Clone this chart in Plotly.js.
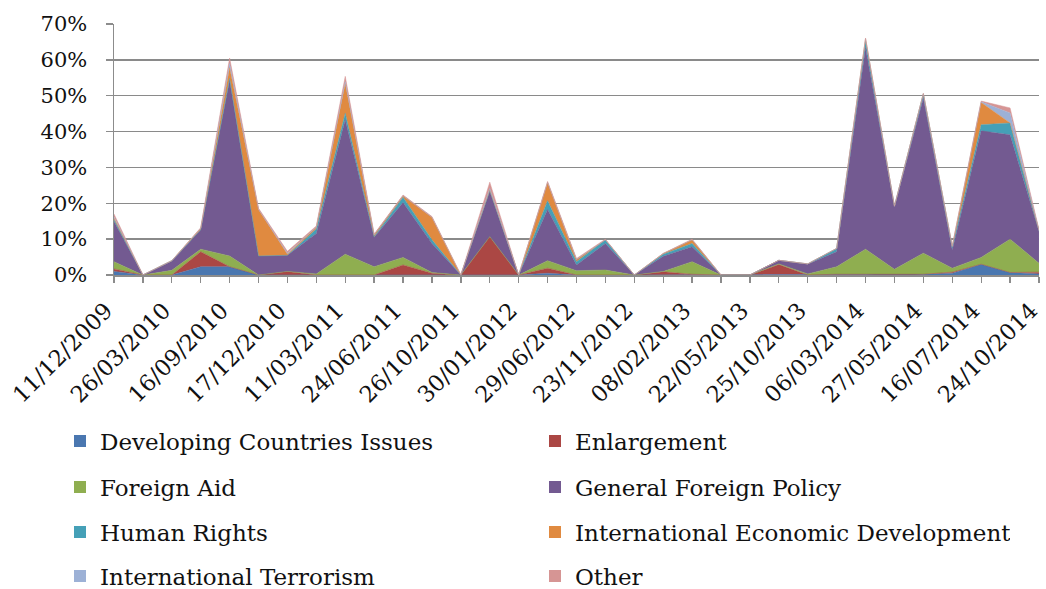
<!DOCTYPE html>
<html>
<head>
<meta charset="utf-8">
<script src="https://cdn.plot.ly/plotly-3.0.1.min.js"></script>
<style>
html,body{margin:0;padding:0;background:#fff;}
#chart{width:1046px;height:589px;}
</style>
</head>
<body>
<div id="chart"></div>
<script>
// Tick labels (every second meeting date is labelled)
var dateLabels = ['11/12/2009','26/03/2010','16/09/2010','17/12/2010','11/03/2011','24/06/2011','26/10/2011','30/01/2012','29/06/2012','23/11/2012','08/02/2013','22/05/2013','25/10/2013','06/03/2014','27/05/2014','16/07/2014','24/10/2014'];
var yTickVals = [0,10,20,30,40,50,60,70];

// Series names
var seriesNames = ['Developing Countries Issues','Enlargement','Foreign Aid','General Foreign Policy','Human Rights','International Economic Development','International Terrorism','Other'];

// Series values (%), 33 observations each
var developing = [1.0,0,0,2.3,2.3,0,0,0,0,0,0,0.2,0,0,0,0.5,0,0,0,0,0,0,0,0,0,0.1,0.2,0.4,0.2,0.5,3.0,0.7,0.3];
var enlargement = [0.7,0,0,4.2,0,0,1.0,0,0,0,2.8,0.3,0,10.7,0,1.4,0,0,0,0.9,0.2,0,0,2.9,0,0.1,0,0,0,0.3,0,0,0.5];
var foreignAid = [2.0,0,1.3,0.7,3.0,0,0,0.3,5.8,2.3,2.1,0.2,0,0,0,2.1,1.2,1.4,0,0.1,3.5,0,0,0.2,0.3,2.1,7.0,1.2,5.9,1.1,1.9,9.3,2.5];
var generalFP = [11.2,0,2.5,5.4,49.0,5.3,4.5,11.3,37.5,8.2,15.3,8.1,0,12.6,0,14.3,1.6,7.4,0,4.2,4.2,0,0,1.0,2.7,4.2,56.1,17.3,43.2,5.1,35.3,29.1,8.8];
var humanRights = [0.5,0,0.2,0,0.5,0,0,1.2,1.8,0.2,1.5,1.0,0,0.3,0,2.4,0.9,1.0,0,0.6,0.9,0,0,0,0.1,0.9,1.9,0.3,1.2,0.8,1.7,3.3,0.3];
var intEconDev = [0.5,0,0,0.4,3.0,13.0,0.3,0.5,8.3,0.5,0.4,6.3,0,0.2,0,5.1,0.6,0,0,0.2,1.0,0,0,0,0,0,0.7,0,0.1,0.2,6.2,0,0];
var intTerrorism = [0.3,0,0,0,1.2,0,0.3,0,0.5,0,0,0,0,0.3,0,0,0,0,0,0,0,0,0,0,0,0,0,0,0,0,0.2,2.8,0];
var other = [0.8,0,0,0.2,1.5,0.3,0.5,0.4,1.5,0.2,0.2,0.2,0,1.8,0,0.3,0.3,0.2,0,0,0.2,0,0,0,0,0,0.2,0,0,0,0.2,1.4,0.3];

var seriesValues = [developing, enlargement, foreignAid, generalFP, humanRights, intEconDev, intTerrorism, other];
var colors = ['#4a77b0','#ab4744','#8fae50','#735a91','#45a0b7','#e08a40','#9db1d6','#d69594'];

var FONT = 'DejaVu Serif, Liberation Serif, serif';
var n = developing.length;
var xIdx = [];
for (var i = 0; i < n; i++) xIdx.push(i);
var tickText = xIdx.map(function(i){ return (i % 2 === 0) ? dateLabels[i/2] : ''; });
var yTickText = yTickVals.map(function(v){ return v + '%'; });

var traces = [];
seriesValues.forEach(function(vals, k){
  traces.push({
    x: xIdx, y: vals, type: 'scatter', mode: 'lines',
    stackgroup: 'one', line: {width: 0.5, color: colors[k]},
    fillcolor: colors[k], name: seriesNames[k], showlegend: false, hoverinfo: 'skip'
  });
});
// legend entries (4 rows x 2 columns)
var legendIds = ['legend','legend2','legend3','legend4'];
seriesNames.forEach(function(name, k){
  traces.push({
    x: [null], y: [null], type: 'scatter', mode: 'markers',
    marker: {symbol: 'square', size: 12, color: colors[k]},
    name: name, legend: legendIds[Math.floor(k/2)], showlegend: true
  });
});

var L = 114, R = 7, T = 24, B = 314;
var W = 1046 - L - R, H = 589 - T - B;
function px2x(px){ return (px - L) / W; }
function py2y(py){ return (589 - B - py) / H; }
var rowY = [441, 487, 532, 576];
function legendCfg(k){
  return {
    orientation: 'h', x: px2x(60), xanchor: 'left', y: py2y(rowY[k]), yanchor: 'middle',
    entrywidth: 430, entrywidthmode: 'pixels', itemwidth: 30,
    font: {family: FONT, size: 23, color: '#111'}, bgcolor: 'rgba(0,0,0,0)', borderwidth: 0,
    traceorder: 'normal'
  };
}

var layout = {
  width: 1046, height: 589,
  margin: {l: L, r: R, t: T, b: B, pad: 0, autoexpand: false},
  paper_bgcolor: '#ffffff', plot_bgcolor: '#ffffff',
  showlegend: true,
  legend: legendCfg(0), legend2: legendCfg(1), legend3: legendCfg(2), legend4: legendCfg(3),
  xaxis: {
    range: [0, n - 1 + 0.001], tickmode: 'array', tickvals: xIdx, ticktext: tickText,
    tickangle: -45, ticks: 'outside', ticklen: 6, tickcolor: '#8c8c8c', tickwidth: 1.3,
    showline: true, linecolor: '#8c8c8c', linewidth: 1.5, showgrid: false, zeroline: false,
    ticklabeloverflow: 'allow', ticklabelshift: -8, ticklabelstandoff: 6,
    tickfont: {family: FONT, size: 22.5, color: '#111'}, fixedrange: true, automargin: false
  },
  yaxis: {
    range: [0, 70], tickmode: 'array', tickvals: yTickVals, ticktext: yTickText,
    ticks: 'outside', ticklen: 7, tickcolor: '#8c8c8c', tickwidth: 1.5,
    showline: true, linecolor: '#8c8c8c', linewidth: 1.5,
    showgrid: true, gridcolor: '#8a8a8a', gridwidth: 1.5, zeroline: false,
    ticklabelstandoff: 14,
    tickfont: {family: FONT, size: 21, color: '#111'}, fixedrange: true, automargin: false
  }
};

Plotly.newPlot('chart', traces, layout, {displayModeBar: false, staticPlot: true});
</script>
</body>
</html>
